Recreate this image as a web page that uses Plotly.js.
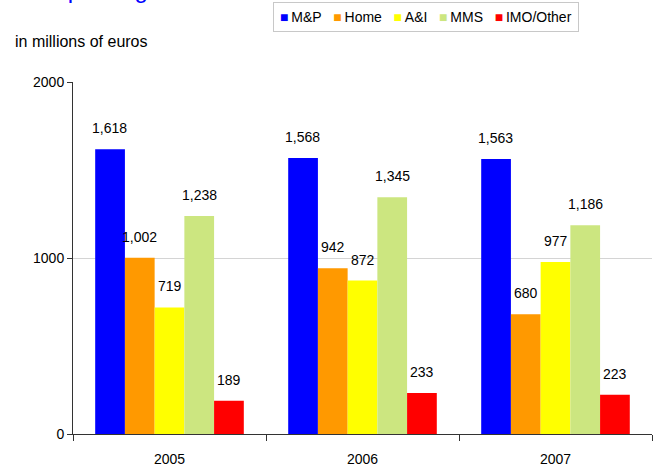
<!DOCTYPE html>
<html>
<head>
<meta charset="utf-8">
<script src="https://cdn.plot.ly/plotly-3.0.1.min.js"></script>
<style>html,body{margin:0;padding:0;background:#fff;}#chart{width:660px;height:471px;}</style>
</head>
<body>
<div id="chart"></div>
<script>
const years = ['2005', '2006', '2007'];
const seriesNames = ['M&P', 'Home', 'A&I', 'MMS', 'IMO/Other'];
const mp = [1618, 1568, 1563];
const home = [1002, 942, 680];
const ai = [719, 872, 977];
const mms = [1238, 1345, 1186];
const imo = [189, 233, 223];
const colors = ['#0000ff', '#ff9900', '#ffff00', '#cce680', '#ff0000'];
const yTicks = [0, 1000, 2000];
const titleText = 'Sales per segment';
const unitText = 'in millions of euros';

const allSeries = [mp, home, ai, mms, imo];
const fontFam = 'Liberation Sans, Arial, sans-serif';

const traces = allSeries.map((vals, i) => ({
  type: 'bar',
  name: seriesNames[i],
  x: years,
  y: vals,
  marker: {color: colors[i], line: {width: 0}},
  hoverinfo: 'skip',
  showlegend: false
}));

const fmt = v => v.toLocaleString('en-US');
const barPx = 29.8;
const annotations = [];
allSeries.forEach((vals, i) => {
  vals.forEach((v, j) => {
    annotations.push({
      x: j, y: v, xref: 'x', yref: 'y',
      text: fmt(v), showarrow: false,
      xshift: (i - 2) * barPx, yshift: 21,
      yanchor: 'middle', xanchor: 'center',
      font: {family: fontFam, size: 14, color: '#000'}
    });
  });
});
annotations.push({
  xref: 'paper', yref: 'paper', x: -0.104, y: 1.085, xanchor: 'left', yanchor: 'bottom',
  text: unitText, showarrow: false, font: {family: fontFam, size: 16, color: '#000'}
});
annotations.push({
  xref: 'paper', yref: 'paper', x: -0.128, y: 1.218, xanchor: 'left', yanchor: 'bottom',
  text: titleText, showarrow: false, font: {family: fontFam, size: 24, color: '#0000ff'}
});
// legend drawn as one annotation with coloured squares
const nb = '\u00a0';
const legendText = seriesNames.map((n, i) =>
  '<span style="color:' + colors[i] + '">■</span>' + '\u2009' + n.replace('&', '&amp;')).join(nb + nb + nb);
annotations.push({
  xref: 'paper', yref: 'paper', x: 0.609, y: 1.185, xanchor: 'center', yanchor: 'middle',
  text: legendText, showarrow: false,
  bordercolor: '#c8c8c8', borderwidth: 1, borderpad: 6, bgcolor: '#fff',
  font: {family: fontFam, size: 14, color: '#000'}
});

const layout = {
  width: 660, height: 471,
  margin: {l: 73, r: 8, t: 82, b: 37, pad: 0},
  paper_bgcolor: '#fff', plot_bgcolor: '#fff',
  font: {family: fontFam, size: 14, color: '#000'},
  barmode: 'group', bargap: 0.23, bargroupgap: 0,
  showlegend: false,
  xaxis: {
    type: 'category', range: [-0.5, 2.5], showline: true, linecolor: '#333', linewidth: 1,
    ticks: 'outside', tickson: 'boundaries', ticklen: 6, tickcolor: '#333',
    ticklabelstandoff: 12,
    showgrid: false, zeroline: false, fixedrange: true, automargin: false,
    tickfont: {family: fontFam, size: 14, color: '#000'}
  },
  yaxis: {
    range: [0, 2000], tickvals: yTicks, ticktext: yTicks.map(String),
    showline: true, linecolor: '#333', linewidth: 1,
    ticks: 'outside', ticklen: 5, tickcolor: '#333',
    showgrid: true, gridcolor: '#d4d4d4', gridwidth: 1,
    zeroline: false, fixedrange: true, automargin: false,
    tickfont: {family: fontFam, size: 14, color: '#000'}
  },
  annotations: annotations
};

Plotly.newPlot('chart', traces, layout, {displayModeBar: false, staticPlot: true});
</script>
</body>
</html>
